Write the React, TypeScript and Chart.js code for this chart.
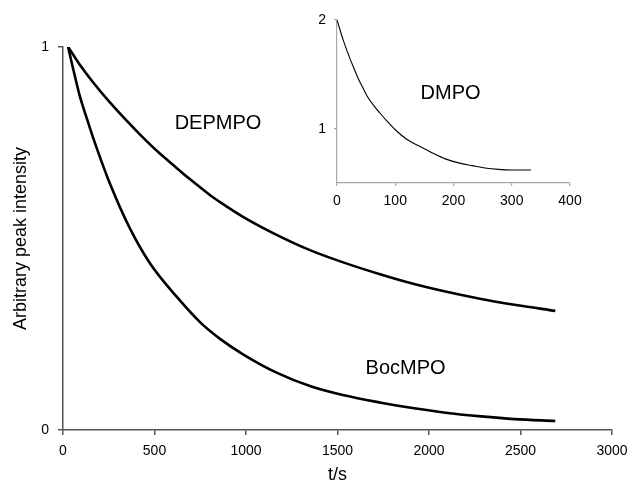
import React, { useEffect, useRef } from "react";
import { Chart, registerables } from "chart.js";

Chart.register(...registerables);

// ---- Data ----
const depmpoTime = [28, 90, 164, 255, 420, 529, 804, 858, 986, 1170, 1353, 1535, 1737, 1919, 2065, 2285, 2467, 2690];
const depmpoValue = [1.0, 0.955, 0.908, 0.856, 0.772, 0.722, 0.613, 0.595, 0.556, 0.509, 0.469, 0.437, 0.406, 0.381, 0.364, 0.342, 0.327, 0.311];

const bocmpoTime = [28, 54, 90, 127, 164, 200, 255, 365, 474, 621, 750, 858, 986, 1170, 1353, 1535, 1737, 1919, 2102, 2285, 2467, 2690];
const bocmpoValue = [1.0, 0.946, 0.875, 0.818, 0.764, 0.715, 0.645, 0.527, 0.436, 0.348, 0.281, 0.238, 0.197, 0.149, 0.114, 0.0905, 0.0714, 0.0567, 0.0445, 0.0355, 0.0285, 0.0235];

const dmpoTime = [0, 11, 23, 28, 37, 46, 51, 68, 74, 85, 100, 119, 141, 164, 186, 209, 232, 254, 277, 299, 333];
const dmpoValue = [2.0, 1.81, 1.635, 1.57, 1.455, 1.36, 1.305, 1.18, 1.142, 1.075, 0.99, 0.905, 0.84, 0.776, 0.722, 0.685, 0.66, 0.638, 0.625, 0.62, 0.62];

const mainXTicks = [0, 500, 1000, 1500, 2000, 2500, 3000];
const mainYTicks = [0, 1];
const insetXTicks = [0, 100, 200, 300, 400];
const insetYTicks = [1, 2];

const FONT = 'Arial, "Liberation Sans", sans-serif';

const toPoints = (t: number[], v: number[]) => t.map((x, i) => ({ x, y: v[i] }));
const plain = (v: any) => String(v);

const labelPlugin = (labels: { text: string; x: number; y: number }[], size: number) => ({
  id: "seriesLabels",
  afterDatasetsDraw(chart: any) {
    const { ctx, scales } = chart;
    ctx.save();
    ctx.font = `${size}px ${FONT}`;
    ctx.fillStyle = "#000";
    ctx.textAlign = "center";
    ctx.textBaseline = "middle";
    labels.forEach((l) => {
      ctx.fillText(l.text, scales.x.getPixelForValue(l.x), scales.y.getPixelForValue(l.y));
    });
    ctx.restore();
  },
});

export default function App() {
  const mainRef = useRef<HTMLCanvasElement>(null);
  const insetRef = useRef<HTMLCanvasElement>(null);

  useEffect(() => {
    document.body.style.margin = "0";
    const axisDark = "#555";
    const axisLight = "#a8a8a8";

    const main = new Chart(mainRef.current!, {
      type: "line",
      data: {
        datasets: [
          {
            label: "DEPMPO",
            data: toPoints(depmpoTime, depmpoValue),
            borderColor: "#000",
            borderWidth: 2.6,
            pointRadius: 0,
            cubicInterpolationMode: "monotone",
          },
          {
            label: "BocMPO",
            data: toPoints(bocmpoTime, bocmpoValue),
            borderColor: "#000",
            borderWidth: 2.6,
            pointRadius: 0,
            cubicInterpolationMode: "monotone",
          },
        ],
      },
      options: {
        animation: false,
        responsive: false,
        events: [],
        layout: { padding: { top: 47, right: 15, left: 0, bottom: 0 }, autoPadding: false } as any,
        plugins: { legend: { display: false }, tooltip: { enabled: false } },
        scales: {
          x: {
            type: "linear",
            min: 0,
            max: 3000,
            afterFit: (s: any) => { s.height = 61; s.paddingLeft = 0; s.paddingRight = 0; },
            afterBuildTicks: (s: any) => { s.ticks = mainXTicks.map((value) => ({ value })); },
            border: { display: true, color: axisDark, width: 1.5 },
            grid: { display: true, drawOnChartArea: false, drawTicks: true, tickLength: 5, color: axisDark, lineWidth: 1.5 },
            ticks: { color: "#000", font: { size: 14, family: FONT }, padding: 8, maxRotation: 0, callback: plain },
            title: { display: true, text: "t/s", color: "#000", font: { size: 18, family: FONT }, padding: { top: 0, bottom: 5 } },
          },
          y: {
            type: "linear",
            min: 0,
            max: 1,
            afterFit: (s: any) => { s.width = 63; s.paddingTop = 0; s.paddingBottom = 0; },
            afterBuildTicks: (s: any) => { s.ticks = mainYTicks.map((value) => ({ value })); },
            border: { display: true, color: axisDark, width: 1.5 },
            grid: { display: true, drawOnChartArea: false, drawTicks: true, tickLength: 5, color: axisDark, lineWidth: 1.5 },
            ticks: { color: "#000", font: { size: 14, family: FONT }, padding: 9, callback: plain },
            title: { display: true, text: "Arbitrary peak intensity", color: "#000", font: { size: 18, family: FONT }, padding: { top: 10, bottom: 0 } },
          },
        },
      },
      plugins: [
        labelPlugin(
          [
            { text: "DEPMPO", x: 847, y: 0.8 },
            { text: "BocMPO", x: 1872, y: 0.16 },
          ],
          20
        ),
      ],
    } as any);

    const inset = new Chart(insetRef.current!, {
      type: "line",
      data: {
        datasets: [
          {
            label: "DMPO",
            data: toPoints(dmpoTime, dmpoValue),
            borderColor: "#000",
            borderWidth: 1.1,
            pointRadius: 0,
            cubicInterpolationMode: "monotone",
          },
        ],
      },
      options: {
        animation: false,
        responsive: false,
        events: [],
        layout: { padding: { top: 20, right: 20, left: 0, bottom: 0 }, autoPadding: false } as any,
        plugins: { legend: { display: false }, tooltip: { enabled: false } },
        scales: {
          x: {
            type: "linear",
            min: 0,
            max: 400,
            afterFit: (s: any) => { s.height = 32; s.paddingLeft = 0; s.paddingRight = 0; },
            afterBuildTicks: (s: any) => { s.ticks = insetXTicks.map((value) => ({ value })); },
            border: { display: true, color: axisLight, width: 1.2 },
            grid: { display: true, drawOnChartArea: false, drawTicks: true, tickLength: 3, color: axisLight, lineWidth: 1.2 },
            ticks: { color: "#000", font: { size: 14, family: FONT }, padding: 7, maxRotation: 0, callback: plain },
          },
          y: {
            type: "linear",
            min: 0.5,
            max: 2,
            afterFit: (s: any) => { s.width = 37; s.paddingTop = 0; s.paddingBottom = 0; },
            afterBuildTicks: (s: any) => { s.ticks = insetYTicks.map((value) => ({ value })); },
            border: { display: true, color: axisLight, width: 1.2 },
            grid: { display: true, drawOnChartArea: false, drawTicks: true, tickLength: 3, color: axisLight, lineWidth: 1.2 },
            ticks: { color: "#000", font: { size: 14, family: FONT }, padding: 8, callback: plain },
          },
        },
      },
      plugins: [labelPlugin([{ text: "DMPO", x: 195, y: 1.32 }], 20)],
    } as any);

    return () => {
      main.destroy();
      inset.destroy();
    };
  }, []);

  return (
    <div style={{ position: "relative", width: 627, height: 491, background: "#fff" }}>
      <canvas ref={mainRef} width={627} height={491} style={{ position: "absolute", left: 0, top: 0 }} />
      <canvas ref={insetRef} width={290} height={215} style={{ position: "absolute", left: 300, top: 0 }} />
    </div>
  );
}
